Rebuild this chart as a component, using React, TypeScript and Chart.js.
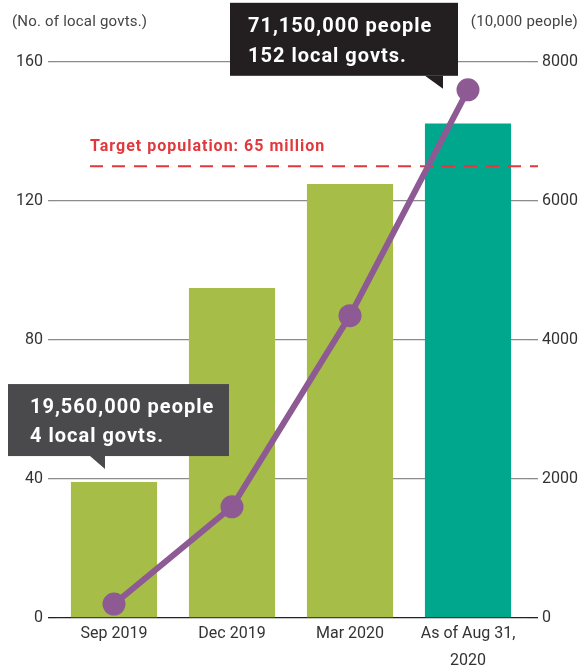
import React, { useEffect, useRef } from 'react';
import { Chart, registerables } from 'chart.js';

Chart.register(...registerables);

const categories: (string | string[])[] = ['Sep 2019', 'Dec 2019', 'Mar 2020', ['As of Aug 31,', '2020']];
const populationValues = [1956, 4750, 6245, 7115]; // 10,000 people (right axis)
const localGovtValues = [4, 32, 87, 152]; // number of local govts (left axis)
const barColors = ['#a6bd48', '#a6bd48', '#a6bd48', '#00a78d'];
const targetPopulation = 6500;
const targetLabel = 'Target population: 65 million';
const leftAxisTitle = '(No. of local govts.)';
const rightAxisTitle = '(10,000 people)';
const firstCallout = ['19,560,000 people', '4 local govts.'];
const lastCallout = ['71,150,000 people', '152 local govts.'];

const FONT = 'Roboto, "Noto Sans", sans-serif';

const overlayPlugin = {
  id: 'overlay',
  afterDatasetDraw(chart: any, args: any) {
    if (args.index !== 0) return;
    const { ctx, chartArea } = chart;
    const y = chart.scales.y1.getPixelForValue(targetPopulation);
    const x0 = chartArea.left + 35;
    const x1 = chartArea.right + 11;
    ctx.save();
    ctx.strokeStyle = '#e2383b';
    ctx.lineWidth = 2;
    ctx.setLineDash([13, 9]);
    ctx.beginPath();
    ctx.moveTo(x0, y);
    ctx.lineTo(x1, y);
    ctx.stroke();
    ctx.setLineDash([]);
    ctx.fillStyle = '#e2383b';
    ctx.font = `bold 16px ${FONT}`;
    (ctx as any).letterSpacing = '1px';
    ctx.textAlign = 'left';
    ctx.textBaseline = 'middle';
    ctx.fillText(targetLabel, x0, y - 19);
    ctx.restore();
  },
  afterDraw(chart: any) {
    const { ctx } = chart;
    ctx.save();
    // axis titles
    ctx.fillStyle = '#444';
    ctx.font = `15px ${FONT}`;
    (ctx as any).letterSpacing = '0.2px';
    ctx.textBaseline = 'middle';
    ctx.textAlign = 'left';
    ctx.fillText(leftAxisTitle, 12, 22);
    ctx.textAlign = 'right';
    ctx.fillText(rightAxisTitle, 578, 22);

    // top callout anchored to the last line point
    const p = chart.getDatasetMeta(1).data[3];
    let right = p.x - 10;
    let bottom = p.y - 14;
    let left = right - 228;
    let top = bottom - 73;
    ctx.fillStyle = '#231f20';
    ctx.fillRect(left, top, right - left, bottom - top);
    ctx.beginPath();
    ctx.moveTo(right - 33, bottom);
    ctx.lineTo(right - 15, bottom);
    ctx.lineTo(right - 15, bottom + 13);
    ctx.closePath();
    ctx.fill();
    ctx.fillStyle = '#ffffff';
    ctx.font = `bold 20px ${FONT}`;
    (ctx as any).letterSpacing = '1px';
    ctx.textAlign = 'left';
    ctx.textBaseline = 'middle';
    ctx.fillText(lastCallout[0], left + 18, top + 24);
    ctx.fillText(lastCallout[1], left + 18, top + 54);

    // lower callout anchored to the first bar
    const b = chart.getDatasetMeta(0).data[0];
    right = b.x + 115;
    bottom = b.y - 26;
    left = right - 221;
    top = bottom - 72;
    ctx.fillStyle = '#4a4a4c';
    ctx.fillRect(left, top, right - left, bottom - top);
    ctx.beginPath();
    ctx.moveTo(right - 139, bottom);
    ctx.lineTo(right - 124, bottom);
    ctx.lineTo(right - 124, bottom + 13);
    ctx.closePath();
    ctx.fill();
    ctx.fillStyle = '#ffffff';
    ctx.fillText(firstCallout[0], left + 22, top + 24);
    ctx.fillText(firstCallout[1], left + 22, top + 53);
    ctx.restore();
  },
};

export default function App() {
  const canvasRef = useRef<HTMLCanvasElement | null>(null);

  useEffect(() => {
    document.body.style.margin = '0';
    const canvas = canvasRef.current;
    if (!canvas) return;
    const chart = new Chart(canvas, {
      data: {
        labels: categories as any,
        datasets: [
          {
            type: 'bar',
            data: populationValues,
            backgroundColor: barColors,
            yAxisID: 'y1',
            categoryPercentage: 1,
            barPercentage: 0.73,
            order: 1,
          },
          {
            type: 'line',
            data: localGovtValues,
            borderColor: '#8e5a93',
            backgroundColor: '#8e5a93',
            borderWidth: 6,
            pointRadius: 11.5,
            pointBorderWidth: 0,
            pointBackgroundColor: '#8e5a93',
            yAxisID: 'y',
            order: 0,
          },
        ] as any,
      },
      options: {
        animation: false,
        responsive: false,
        maintainAspectRatio: false,
        layout: { padding: { top: 62, left: 0, right: 0, bottom: 0 } },
        plugins: { legend: { display: false }, tooltip: { enabled: false } },
        scales: {
          x: {
            grid: { display: false, drawTicks: false },
            border: { display: false },
            ticks: {
              color: '#333',
              font: { family: FONT, size: 16, lineHeight: 1.65 },
              padding: 3,
              maxRotation: 0,
              autoSkip: false,
            },
            afterFit(scale: any) {
              scale.height = 50;
            },
          },
          y: {
            position: 'left',
            min: 0,
            max: 160,
            ticks: { stepSize: 40, color: '#333', font: { family: FONT, size: 16 }, padding: 5 },
            grid: {
              color: (c: any) => (c.index === 0 ? '#222' : '#8c8c8c'),
              lineWidth: 1.3,
              tickLength: 7,
            },
            border: { display: false },
            afterFit(scale: any) {
              scale.width = 55;
            },
          },
          y1: {
            position: 'right',
            min: 0,
            max: 8000,
            ticks: {
              stepSize: 2000,
              color: '#333',
              font: { family: FONT, size: 16 },
              padding: 4,
              callback: (v: any) => String(v),
            },
            grid: {
              drawOnChartArea: false,
              color: (c: any) => (c.index === 0 ? '#222' : '#8c8c8c'),
              lineWidth: 1.3,
              tickLength: 11,
            },
            border: { display: false },
            afterFit(scale: any) {
              scale.width = 59;
            },
          },
        },
      } as any,
      plugins: [overlayPlugin],
    });
    return () => chart.destroy();
  }, []);

  return (
    <div style={{ width: 586, height: 668 }}>
      <canvas ref={canvasRef} width={586} height={668} style={{ display: 'block' }} />
    </div>
  );
}
